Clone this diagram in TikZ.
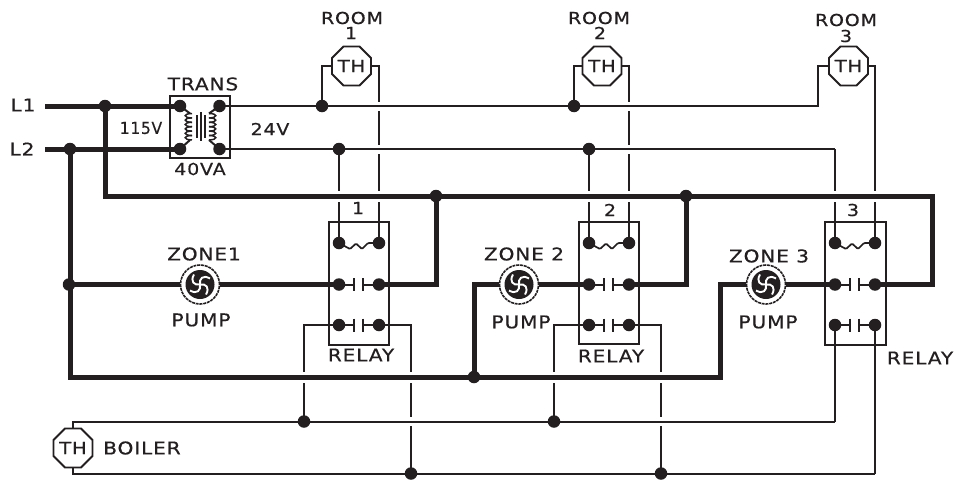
\documentclass[tikz,border=0pt]{standalone}
\usepackage{fontspec}
\setmainfont[FakeStretch=1.15,LetterSpace=5,FakeBold=0.5]{DejaVu Sans}
\usetikzlibrary{shapes.geometric}
\definecolor{ink}{HTML}{231F20}
\tikzset{
  thin wire/.style={draw=ink,line width=2pt,line join=miter},
  thick wire/.style={draw=ink,line width=5pt,line join=miter,line cap=butt},
  halo/.style={draw=white,line width=#1},
  dot/.style={circle,fill=ink,inner sep=0pt,minimum size=12.5pt},
  lbl/.style={text=ink,font=\fontsize{17.5}{18}\selectfont,inner sep=0pt},
  smalllbl/.style={lbl,font=\fontsize{16.5}{17}\selectfont},
  relaybox/.style={draw=ink,line width=2pt,fill=none},
  thermo/.style={regular polygon,regular polygon sides=8,draw=ink,line width=1.8pt,minimum size=40pt,inner sep=0pt,fill=white,text=ink,font=\fontsize{17}{17}\selectfont},
  pump/.style={circle,draw=ink,line width=1.6pt,dash pattern=on 3pt off .8pt,minimum size=39pt,inner sep=0pt,fill=white},
}
\newcommand{\pumpface}[1]{%
  \fill[ink] (#1) circle (14.5pt);
  \foreach \a in {0,90,180,270}{
    \draw[white,line width=1.9pt,shift={(#1)},rotate=\a] (0,0) .. controls (6,-1) and (10,3) .. (6,10);
  }
}
\newcommand{\contact}[2]{%
  \draw[thin wire] (#1) -- ++(15,0) ++(0,-6.5) -- ++(0,13);
  \draw[thin wire] (#2) -- ++(-16,0) ++(0,-6.5) -- ++(0,13);
}
\newcommand{\relaycoil}[2]{%
  \draw[draw=ink,line width=1.7pt,rounded corners=1pt] (#1) -- ++(11,6) -- ++(6,-5.5) -- ++(6,5.5) -- ++(6,-6) -- (#2);
}
\begin{document}
\begin{tikzpicture}[x=1pt,y=-1pt]
\useasboundingbox (0,0) rectangle (960,479);
% thermostats
\node[thermo] (TH1) at (351.5,66) {TH};
\node[thermo] (TH2) at (602,66) {TH};
\node[thermo] (TH3) at (848.5,66) {TH};
\node[thermo] (TH4) at (73,448) {TH};
% named points
\coordinate (LA) at (45,106);
\coordinate (LB) at (45,149);
\coordinate (J1) at (105,106);
\coordinate (J2) at (70,149);
\coordinate (J3) at (69,284.5);
\foreach \n/\x/\y in {Ta/180/106,Tb/219.5/106,Tc/180/149,Td/219.5/149}{\coordinate (\n) at (\x,\y);}
\foreach \n/\x in {a/339,b/379}{
  \coordinate (A\n1) at (\x,243); \coordinate (A\n2) at (\x,284.5); \coordinate (A\n3) at (\x,325);}
\foreach \n/\x in {a/589,b/629}{
  \coordinate (B\n1) at (\x,243); \coordinate (B\n2) at (\x,284.5); \coordinate (B\n3) at (\x,325);}
\foreach \n/\x in {a/835,b/875}{
  \coordinate (C\n1) at (\x,243); \coordinate (C\n2) at (\x,284.5); \coordinate (C\n3) at (\x,325);}
\coordinate (S1) at (322,106); \coordinate (S2) at (574,106);
\coordinate (S3) at (339,149); \coordinate (S4) at (589,149);
\coordinate (D1) at (436,196); \coordinate (D2) at (686,196);
\coordinate (D3) at (474,377);
\coordinate (W1) at (304,421.5); \coordinate (W2) at (554,421.5);
\coordinate (W3) at (411,473.5); \coordinate (W4) at (661,473.5);
\coordinate (EndA) at (818,106); \coordinate (EndB) at (835,149);
\coordinate (EndC) at (835,421.5); \coordinate (EndD) at (875,473.5);
\coordinate (CornerR) at (932,196); \coordinate (CornerB) at (105,196);
\coordinate (CornerL) at (70,377); \coordinate (CornerM) at (720,377);
% thin crossing wires
\draw[thin wire] (TH1.east |- 0,66) -- (Ab1 |- 0,66) -- (Ab1);
\draw[thin wire] (TH2.east |- 0,66) -- (Bb1 |- 0,66) -- (Bb1);
\draw[thin wire] (TH3.east |- 0,66) -- (Cb1 |- 0,66) -- (Cb1);
\draw[thin wire] (S3) -- (Aa1);
\draw[thin wire] (S4) -- (Ba1);
\draw[thin wire] (EndB) -- (Ca1);
\draw[thin wire] (Ca3) -- (EndC);
\draw[thin wire] (Cb3) -- (EndD);
\draw[thin wire] (Aa3) -- (W1 |- Aa3) -- (W1);
\draw[thin wire] (Ab3) -- (W3 |- Ab3) -- (W3);
\draw[thin wire] (Ba3) -- (W2 |- Ba3) -- (W2);
\draw[thin wire] (Bb3) -- (W4 |- Bb3) -- (W4);
% gaps at the crossings
\draw[halo=9pt,shorten >=8pt] (Tb) -- (EndA);
\draw[halo=9pt,shorten >=8pt] (Td) -- (EndB);
\draw[halo=9pt,shorten >=8pt,shorten <=8pt] (TH4.north |- EndC) -- (EndC);
\draw[halo=11pt] (CornerB) -- (CornerR);
\draw[halo=11pt] (CornerL) -- (CornerM);
% thin horizontal wires
\draw[thin wire] (Tb) -- (EndA) -- (EndA |- 0,66) -- (TH3.west |- 0,66);
\draw[thin wire] (Td) -- (EndB);
\draw[thin wire] (S1) -- (S1 |- 0,66) -- (TH1.west |- 0,66);
\draw[thin wire] (S2) -- (S2 |- 0,66) -- (TH2.west |- 0,66);
\draw[thin wire] (TH4.north) -- (TH4.north |- EndC) -- (EndC);
\draw[thin wire] (TH4.south) -- (TH4.south |- EndD) -- (EndD);
\draw[thin wire] (EndC) -- +(0,-10);
% pumps
\node[pump] (P1) at (200,284.5) {};
\node[pump] (P2) at (519,284.5) {};
\node[pump] (P3) at (766,284.5) {};
\pumpface{P1}\pumpface{P2}\pumpface{P3}
% thick wires
\draw[thick wire] (LA) -- (Ta);
\draw[thick wire] (LB) -- (Tc);
\draw[thick wire] (J1) -- (CornerB) -- (CornerR) -- (CornerR |- Cb2) -- (Cb2);
\draw[thick wire] (D1) -- (D1 |- Ab2) -- (Ab2);
\draw[thick wire] (D2) -- (D2 |- Bb2) -- (Bb2);
\draw[thick wire] (J2) -- (CornerL) -- (CornerM) -- (CornerM |- Cb2) -- (P3.west);
\draw[thick wire] (J3) -- (P1.west);
\draw[thick wire] (P1.east) -- (Aa2);
\draw[thick wire] (D3) -- (D3 |- Ba2) -- (P2.west);
\draw[thick wire] (P2.east) -- (Ba2);
\draw[thick wire] (P3.east) -- (Ca2);
% relay boxes
\node[relaybox,minimum width=60pt,minimum height=123pt,inner sep=0pt] (R1) at (359,283.5) {};
\node[relaybox,minimum width=60pt,minimum height=122pt,inner sep=0pt] (R2) at (609,283) {};
\node[relaybox,minimum width=60.5pt,minimum height=123pt,inner sep=0pt] (R3) at (855.5,283.5) {};
% contacts and coils
\relaycoil{Aa1}{Ab1}\contact{Aa2}{Ab2}\contact{Aa3}{Ab3}
\relaycoil{Ba1}{Bb1}\contact{Ba2}{Bb2}\contact{Ba3}{Bb3}
\relaycoil{Ca1}{Cb1}\contact{Ca2}{Cb2}\contact{Ca3}{Cb3}
% transformer
\node[draw=ink,line width=2pt,minimum width=60pt,minimum height=62pt,inner sep=0pt] (TR) at (200,127) {};
\draw[thin wire] (Ta) -- (190,113.5);
\draw[thin wire] (Tc) -- (190,140);
\draw[thin wire] (Tb) -- (209,113.5);
\draw[thin wire] (Td) -- (209,140);
\foreach \i in {0,1,2,3,4,5}{
  \draw[draw=ink,line width=1.5pt] (192,113.5+4.4*\i) .. controls (183,113.5+4.4*\i) and (183,117.9+4.4*\i) .. (192,117.9+4.4*\i);
  \draw[draw=ink,line width=1.5pt] (209,113.5+4.4*\i) .. controls (218,113.5+4.4*\i) and (218,117.9+4.4*\i) .. (209,117.9+4.4*\i);
}
\draw[thin wire] (196.5,115) -- (196.5,138);
\draw[thin wire] (200.5,112) -- (200.5,141);
\draw[thin wire] (204.5,115) -- (204.5,138);
% dots
\foreach \p in {J1,J2,J3,Ta,Tb,Tc,Td,S1,S2,S3,S4,D1,D2,D3,W1,W2,W3,W4,Aa1,Ab1,Aa2,Ab2,Aa3,Ab3,Ba1,Bb1,Ba2,Bb2,Ba3,Bb3,Ca1,Cb1,Ca2,Cb2,Ca3,Cb3}{
  \node[dot] at (\p) {};
}
% labels
\node[lbl] (tL1) at (23,105) {L1};
\node[lbl] (tL2) at (22,149) {L2};
\node[smalllbl] (t115) at (141,128) {\scalebox{0.82}[1]{115V}};
\node[smalllbl] (t24) at (270,129) {24V};
\node[lbl] (tTR) at (203,84) {TRANS};
\node[smalllbl] (t40) at (200,169) {40VA};
\node[smalllbl] (tR1) at (352,18) {ROOM};
\node[smalllbl] (tR1n) at (351,33) {1};
\node[smalllbl] (tR2) at (599,18) {ROOM};
\node[smalllbl] (tR2n) at (600,33) {2};
\node[smalllbl] (tR3) at (846,20) {ROOM};
\node[smalllbl] (tR3n) at (846,36) {3};
\node[smalllbl] (tN1) at (358,208) {1};
\node[smalllbl] (tN2) at (610,210) {2};
\node[smalllbl] (tN3) at (853,210) {3};
\node[lbl] (tZ1) at (204,254) {ZONE1};
\node[lbl] (tZ2) at (524,254) {ZONE 2};
\node[lbl] (tZ3) at (769,256) {ZONE 3};
\node[lbl] (tP1) at (201,320) {PUMP};
\node[lbl] (tP2) at (521,322) {PUMP};
\node[lbl] (tP3) at (768,322) {PUMP};
\node[lbl] (tY1) at (361,355) {RELAY};
\node[lbl] (tY2) at (611,356) {RELAY};
\node[lbl] (tY3) at (920,358) {RELAY};
\node[lbl] (tB) at (142,448) {BOILER};
\end{tikzpicture}
\end{document}
